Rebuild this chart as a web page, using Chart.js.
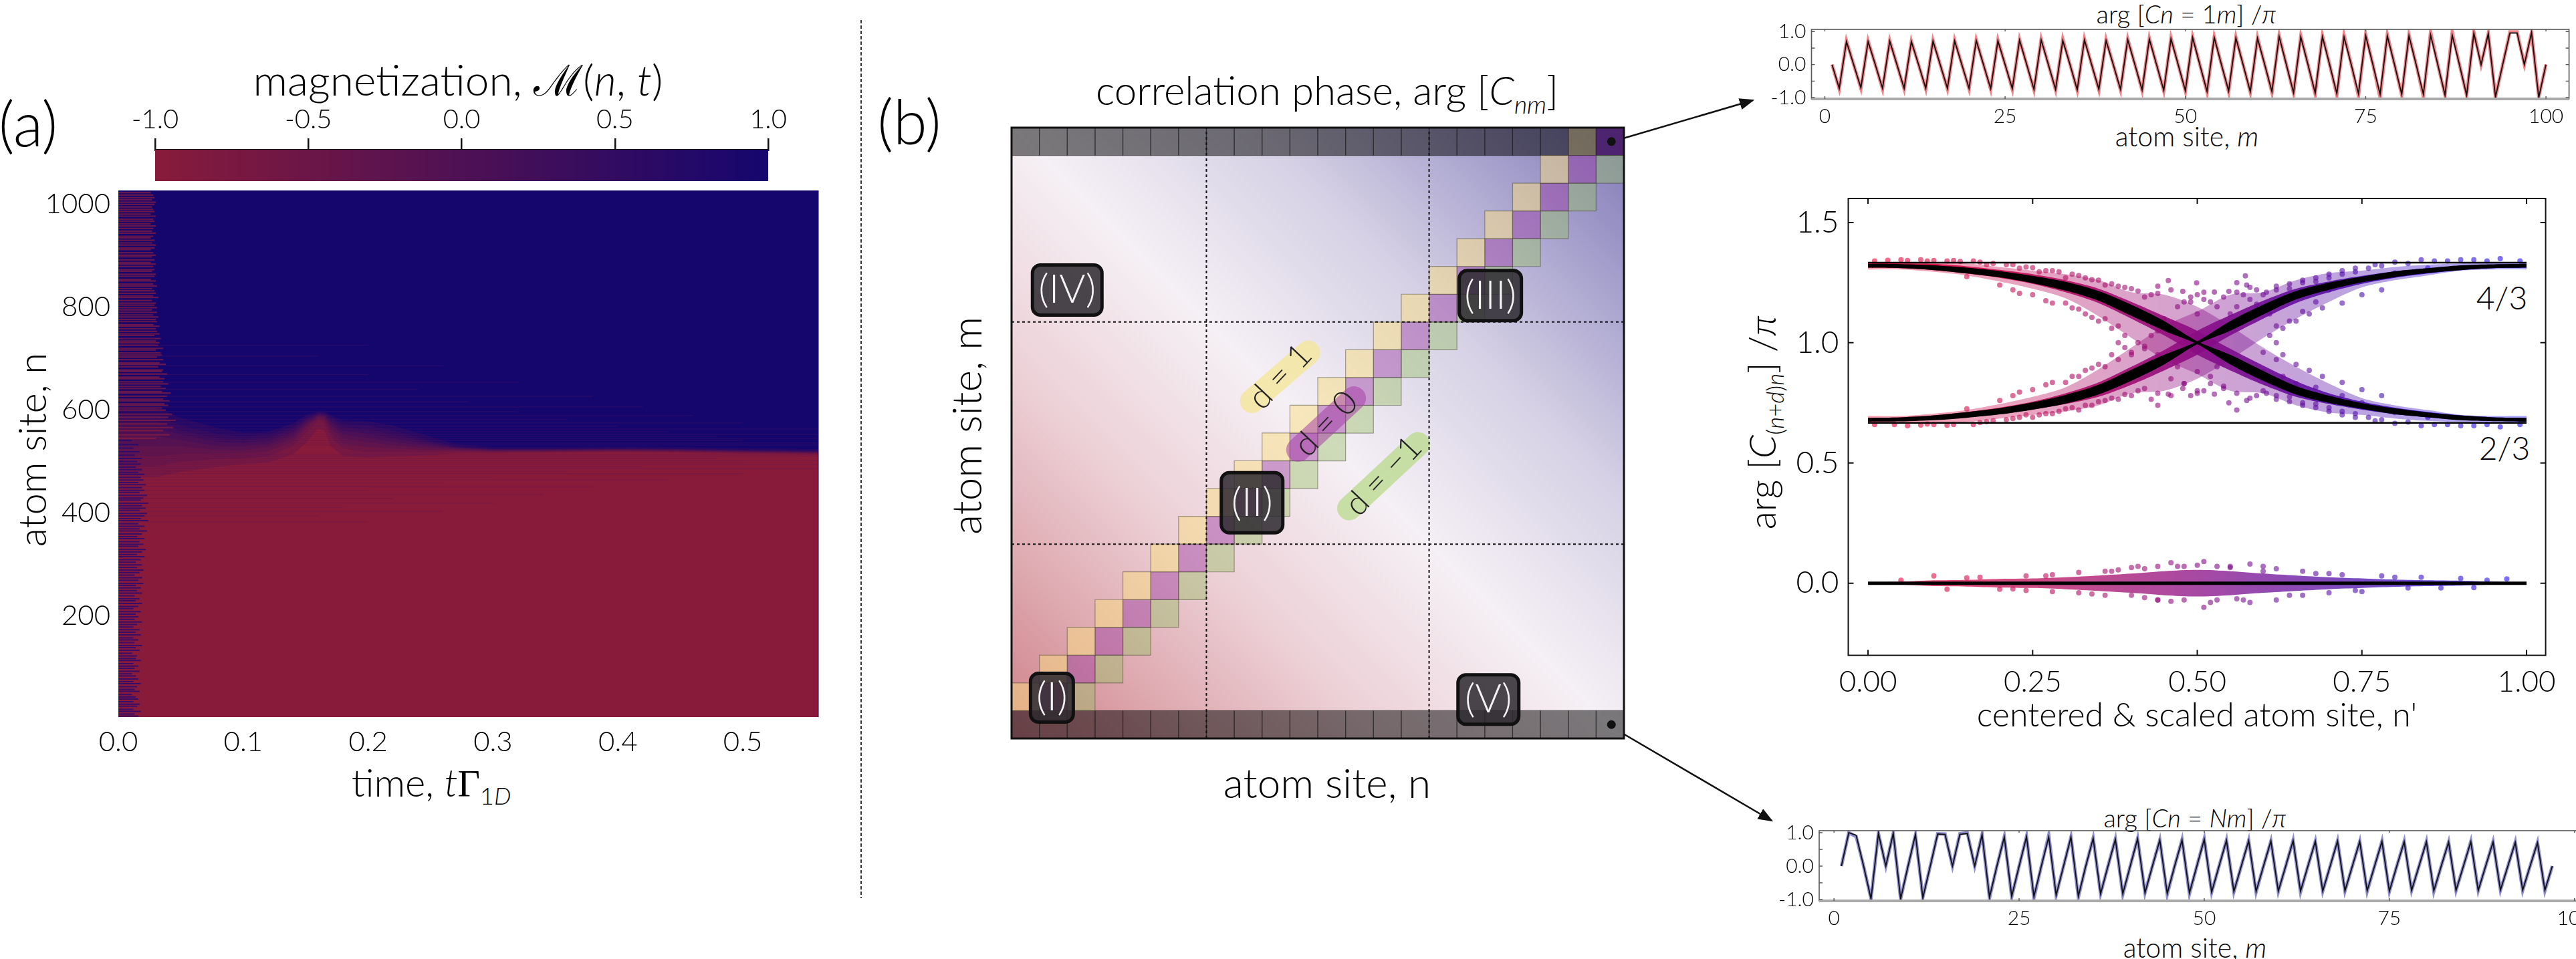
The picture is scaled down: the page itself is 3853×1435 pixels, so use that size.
<!DOCTYPE html>
<html>
<head>
<meta charset="utf-8">
<script src="https://cdn.jsdelivr.net/npm/chart.js@4"></script>
<style>
  html, body { margin: 0; background: #fff; }
  #page { position: relative; width: 3853px; height: 1435px; overflow: hidden; }
  canvas { position: absolute; }
  svg { position: absolute; left: 0; top: 0; }
  .t { position: absolute; transform: translate(-50%, -50%); white-space: nowrap; font-family: Lato; font-weight: 300; color: #000; }
  .v { transform: translate(-50%, -50%) rotate(-90deg); }
  .t i { font-family: Lato; font-weight: 300; font-style: italic; }
  sub { font-size: 62%; line-height: 0; }
</style>
</head>
<body>
<div id="page">
  <svg width="3853" height="1435">
    <defs>
      <marker id="head" markerWidth="9" markerHeight="7" refX="8" refY="3.5" orient="auto"><path d="M0 0 L9 3.5 L0 7 Z" fill="#111"/></marker>
    </defs>
    <line x1="1288" y1="30" x2="1288" y2="1344" stroke="#333" stroke-width="2" stroke-dasharray="5 3"/>
    <line x1="2411" y1="212" x2="2622" y2="150" stroke="#111" stroke-width="2.5" marker-end="url(#head)"/>
    <line x1="2411" y1="1088" x2="2650" y2="1228" stroke="#111" stroke-width="2.5" marker-end="url(#head)"/>
  </svg>

  <div class="t" style="left:42px;top:183px;font-size:92px">(a)</div>
  <div class="t" style="left:1360px;top:180px;font-size:92px">(b)</div>

  <div class="t" style="left:685px;top:118px;font-size:64px">magnetization, <span style="font-family:'DejaVu Serif';font-weight:400">ℳ</span>(<i>n</i>, <i>t</i>)</div>
  <div class="t v" style="left:46px;top:673px;font-size:58px">atom site, n</div>
  <div class="t" style="left:645px;top:1170px;font-size:58px">time, <i>t</i><span style="font-family:'Liberation Serif';font-weight:400">Γ</span><sub>1<i>D</i></sub></div>

  <div class="t" style="left:1985px;top:134px;font-size:60px">correlation phase, arg [<i>C</i><sub><i>nm</i></sub>]</div>
  <div class="t v" style="left:1444px;top:637px;font-size:62px">atom site, m</div>
  <div class="t" style="left:1985px;top:1170px;font-size:62px">atom site, n</div>

  <div class="t v" style="left:2634px;top:632px;font-size:56px">arg [<i>C</i><sub>(<i>n</i>+<i>d</i>)<i>n</i></sub>] /<i>π</i></div>
  <div class="t" style="left:3286px;top:1068px;font-size:50px">centered &amp; scaled atom site, n'</div>
  <div class="t" style="left:3742px;top:444px;font-size:48px">4/3</div>
  <div class="t" style="left:3746px;top:669px;font-size:48px">2/3</div>

  <div class="t" style="left:3270px;top:20px;font-size:38px">arg [<i>Cn</i> = 1<i>m</i>] /<i>π</i></div>
  <div class="t" style="left:3271px;top:203px;font-size:41px">atom site, <i>m</i></div>
  <div class="t" style="left:3283px;top:1223px;font-size:38px">arg [<i>Cn</i> = <i>Nm</i>] /<i>π</i></div>
  <div class="t" style="left:3283px;top:1417px;font-size:41px">atom site, <i>m</i></div>
</div>

<script>
// panel (a): contour heights of the magnetization front
const frontTimes = [0, 0.03, 0.05, 0.08, 0.1, 0.12, 0.14, 0.15, 0.16, 0.165, 0.17, 0.18, 0.2, 0.22, 0.25, 0.27, 0.3, 0.35, 0.4, 0.45, 0.5, 0.56];
const magLevels = [-0.8, -0.6, -0.4, -0.2, 0, 0.2, 0.4, 0.6, 0.8];
const frontM80n = [470,470,480,490,495,498,515,535,565,560,530,510,508,510,512,516,516,517,518,517,515,513];
const frontM60n = [490,490,500,505,506,510,530,555,580,575,548,525,518,518,518,520,518,519,520,519,517,515];
const frontM40n = [510,510,515,515,516,520,540,565,585,582,558,535,528,525,522,522,520,520,521,520,518,516];
const frontM20n = [530,530,530,522,522,528,546,570,587,585,566,545,538,532,526,524,521,521,522,521,519,517];
const frontZero = [550,550,542,530,530,534,552,574,589,588,572,553,546,538,530,526,522,522,523,522,520,518];
const frontP20 = [565,565,552,538,536,540,558,578,591,590,577,560,554,545,534,527,523,523,524,523,521,519];
const frontP40 = [578,578,560,545,542,546,563,581,593,592,582,567,562,552,537,528,524,524,525,524,522,520];
const frontP60 = [590,590,570,553,548,552,568,585,595,594,586,573,570,560,540,530,525,525,526,525,523,521];
const frontP80 = [605,605,585,565,556,558,574,590,598,597,590,580,578,570,548,534,528,528,529,528,526,524];
const magFronts = [frontM80n, frontM60n, frontM40n, frontM20n, frontZero, frontP20, frontP40, frontP60, frontP80];

// early time stripes [site, end time]
const redStripes = [[545,.03],[552,.041],[560,.036],[566,.044],[573,.039],[580,.046],[586,.04],[592,.043],[600,.038],[604,.035],[609,.04],[612,.037],[618,.041],[621,.036],[627,.039],[633,.042],[636,.035],[642,.038],[646,.034],[651,.04],[655,.036],[661,.037],[664,.033],[670,.039],[675,.035],[678,.036],[684,.032],[689,.038],[692,.033],[698,.036],[703,.031],[707,.035],[711,.034],[717,.03],[720,.036],[726,.032],[731,.033],[734,.03],[739,.034],[745,.029],[748,.033],[753,.031],[758,.03],[763,.033],[766,.028],[772,.031],[776,.03],[781,.032],[785,.028],[790,.031],[795,.027],[799,.031],[804,.029],[808,.03],[813,.027],[819,.032],[822,.028],[827,.03],[832,.029],[836,.027],[841,.031],[845,.028],[851,.03],[854,.026],[860,.029],[864,.03],[870,.027],[873,.029],[879,.028],[884,.03],[887,.026],[892,.029],[898,.027],[901,.03],[906,.028],[912,.026],[915,.029],[921,.03],[925,.027],[930,.029],[935,.026],[938,.028],[944,.03],[948,.027],[953,.028],[958,.03],[962,.026],[967,.029],[971,.028],[977,.03],[981,.026],[986,.029],[990,.028],[995,.027],[1000,.029],[1004,.03],[1009,.027],[1013,.029],[1018,.028],[1023,.026]];
const blueStripes = [[5,.016],[9,.013],[14,.018],[18,.012],[24,.015],[28,.017],[33,.012],[38,.016],[42,.014],[47,.011],[53,.017],[57,.013],[62,.015],[68,.018],[72,.012],[77,.016],[83,.014],[87,.011],[92,.017],[98,.013],[102,.016],[107,.012],[113,.018],[117,.014],[122,.015],[127,.011],[133,.017],[138,.014],[142,.019],[148,.013],[153,.016],[157,.012],[163,.018],[168,.014],[173,.017],[178,.012],[183,.015],[188,.019],[193,.013],[198,.016],[203,.014],[208,.018],[214,.012],[218,.016],[224,.019],[229,.014],[233,.017],[239,.013],[244,.019],[249,.015],[254,.018],[259,.014],[263,.02],[269,.016],[274,.019],[279,.013],[284,.017],[289,.02],[294,.015],[299,.019],[304,.014],[309,.018],[315,.021],[319,.015],[324,.019],[329,.022],[335,.016],[339,.02],[344,.017],[350,.021],[354,.015],[359,.019],[365,.023],[369,.017],[374,.021],[379,.016],[385,.024],[389,.018],[394,.021],[399,.023],[405,.017],[409,.022],[414,.019],[419,.024],[425,.018],[429,.02],[434,.023],[440,.017],[444,.021],[449,.019],[455,.022],[459,.016],[464,.02],[469,.018],[475,.021],[479,.016],[484,.019],[489,.014],[495,.018],[500,.015],[506,.019],[512,.013],[519,.017],[526,.012],[533,.016],[541,.011]];
const fineStripes = [[382,.2],[394,.16],[403,.26],[411,.18],[419,.3],[428,.22],[436,.34],[444,.2],[451,.38],[458,.26],[464,.44],[470,.3],[476,.5],[481,.36],[486,.56],[490,.42],[494,.56],[498,.5],[502,.56],[506,.48],[510,.56],[513,.56],[532,.56],[536,.56],[541,.5],[545,.56],[549,.48],[553,.56],[558,.44],[563,.56],[569,.4],[575,.5],[582,.36],[589,.46],[597,.32],[606,.42],[616,.28],[627,.38],[640,.24],[654,.32],[669,.2],[686,.26],[705,.16],[726,.2]];
const magTicksY = [200, 400, 600, 800, 1000];

// colorbar
const colorbarRange = [-1, 1];

// panel (b): 22 x 22 block grid, 1-based sites
const diagSites = [1,2,3,4,5,6,7,8,9,10,11,12,13,14,15,16,17,18,19,20];
const stripSites = [1,2,3,4,5,6,7,8,9,10,11,12,13,14,15,16,17,18,19,20,21,22];
const regionLabels = ['(I)', '(II)', '(III)', '(IV)', '(V)'];
const regionN = [1.45, 8.64, 17.2, 2, 17.13];
const regionM = [1.47, 8.49, 15.95, 16.15, 1.4];
const regionW = [64, 92, 93, 104, 91];
const regionH = [73, 90, 75, 75, 74];
const dividersN = [7, 15];
const dividersM = [7, 15];

// panel (b) right, centre: branches over the scaled site
const branchX = [0,.05,.1,.15,.2,.25,.3,.35,.4,.45,.5,.55,.6,.65,.7,.75,.8,.85,.9,.95,1];
const fallBlackHigh = [1.328,1.327,1.322,1.312,1.298,1.278,1.253,1.215,1.158,1.09,1.006,.95,.883,.82,.78,.749,.727,.71,.698,.69,.688];
const fallBlackLow = [1.312,1.31,1.302,1.288,1.272,1.248,1.217,1.175,1.112,1.05,.994,.91,.842,.785,.75,.725,.703,.69,.678,.674,.672];
const fallHigh = [1.335,1.335,1.335,1.33,1.315,1.3,1.285,1.26,1.21,1.2,1.15,1.07,.98,.9,.83,.77,.74,.72,.7,.695,.695];
const fallLow = [1.305,1.305,1.295,1.28,1.255,1.225,1.185,1.11,1.02,.93,.87,.8,.79,.74,.71,.7,.685,.675,.67,.665,.665];
const fallCoreHigh = [1.33,1.33,1.328,1.318,1.303,1.285,1.26,1.225,1.17,1.11,1.05,.975,.905,.84,.79,.755,.73,.712,.698,.69,.688];
const fallCoreLow = [1.312,1.31,1.302,1.288,1.27,1.245,1.21,1.165,1.1,1.03,.95,.885,.825,.775,.745,.722,.703,.69,.68,.675,.672];
const riseBlackHigh = [.688,.69,.698,.712,.728,.752,.783,.825,.888,.95,1.006,1.09,1.158,1.215,1.25,1.275,1.297,1.31,1.322,1.326,1.328];
const riseBlackLow = [.672,.673,.678,.688,.702,.722,.747,.785,.842,.91,.994,1.05,1.117,1.18,1.22,1.251,1.273,1.29,1.302,1.31,1.312];
const riseHigh = [.695,.695,.705,.72,.745,.775,.815,.89,.98,1.07,1.13,1.2,1.21,1.26,1.29,1.3,1.315,1.325,1.33,1.335,1.335];
const riseLow = [.665,.665,.665,.67,.685,.7,.715,.74,.79,.8,.85,.93,1.02,1.1,1.17,1.23,1.26,1.28,1.3,1.305,1.305];
const riseCoreHigh = [.688,.69,.698,.712,.73,.755,.79,.835,.9,.97,1.05,1.115,1.175,1.225,1.255,1.278,1.297,1.31,1.32,1.325,1.328];
const riseCoreLow = [.672,.675,.68,.69,.703,.722,.745,.775,.825,.885,.95,1.03,1.1,1.165,1.21,1.245,1.27,1.288,1.302,1.31,1.312];
const zeroHigh = [.004,.006,.012,.014,.018,.02,.025,.032,.04,.05,.055,.05,.04,.032,.025,.02,.015,.012,.01,.006,.004];
const zeroLow = [-.004,-.006,-.012,-.014,-.018,-.02,-.025,-.032,-.04,-.05,-.055,-.05,-.04,-.032,-.025,-.02,-.015,-.012,-.01,-.006,-.004];
const zeroMean = [0,0,0,0,0,0,0,0,0,0,0,0,0,0,0,0,0,0,0,0,0];
const plateauX = [0, 1];
const plateauHigh = [1.3333, 1.3333];
const plateauLow = [.6667, .6667];

const scatterX = [.01,.03,.05,.08,.1,.12,.14,.16,.19,.22,.24,.27,.29,.31,.33,.35,.37,.39,.41,.43,.44,.456,.478,.49,.499,.51,.526,.548,.56,.573,.575,.59,.605,.62,.64,.66,.68,.7,.72,.74,.77,.8,.84,.88,.92,.96,.99,
  .15,.2,.23,.27,.3,.32,.34,.36,.38,.38,.38,.39,.41,.42,.43,.44,.62,.62,.62,.61,.59,.58,.57,.56,.66,.64,.68,.7,.73,.77,.8,.85,
  .01,.04,.08,.1,.12,.16,.19,.22,.24,.27,.29,.31,.33,.35,.37,.39,.41,.43,.44,.456,.478,.49,.5,.51,.526,.548,.56,.575,.59,.605,.62,.64,.66,.68,.7,.72,.74,.77,.8,.84,.88,.92,.96,.99,
  .15,.2,.23,.27,.3,.32,.34,.36,.4,.42,.44,.6,.63,.65,.68,.72,.75,.8,.85,
  .1,.17,.24,.28,.32,.36,.38,.4,.42,.44,.46,.48,.51,.53,.55,.58,.6,.62,.66,.7,.72,.78,.84,.9,.97,
  .12,.2,.24,.28,.32,.36,.4,.42,.44,.46,.48,.51,.53,.56,.58,.62,.66,.7,.75,.82,.92,
  .47,.49,.51,.53,.46,.54,.52,.48,.5,.47,.53,.5,.55,.45,.57,.43,
  .06,.09,.13,.17,.18,.21,.23,.25,.26,.28,.3,.32,.34,.36,.38,.4,.42,.44,.46,.48,.5,.52,.54,.56,.58,.6,.62,.64,.66,.68,.7,.72,.74,.76,.78,.82,.86,.9,.94,
  .06,.09,.13,.17,.18,.21,.23,.25,.26,.28,.3,.32,.34,.36,.38,.4,.42,.44,.46,.48,.5,.52,.54,.56,.58,.6,.62,.64,.66,.68,.7,.72,.74,.76,.78,.82,.86,.9,.94,
  .22,.25,.28,.31,.33,.35,.37,.39,.4,.37,.35,.33,.31,.28,.25,.22,.78,.75,.72,.69,.67,.65,.63,.61,.6,.63,.65,.67,.69,.72,.75,.78,
  .05,.15,.22,.27,.34,.37,.41,.44,.47,.5,.52,.55,.57,.6,.64,.68,.74,.8,.87,.94];
const scatterY = [1.34,1.343,1.345,1.345,1.342,1.34,1.338,1.34,1.33,1.325,1.315,1.3,1.295,1.285,1.27,1.26,1.245,1.23,1.215,1.2,1.235,1.259,1.214,1.19,1.249,1.21,1.211,1.214,1.25,1.278,1.24,1.22,1.21,1.22,1.245,1.26,1.27,1.285,1.3,1.31,1.325,1.335,1.345,1.34,1.345,1.35,1.34,
  1.275,1.24,1.205,1.175,1.165,1.14,1.105,1.1,1.07,1.0,.93,.98,1,.985,1.03,1.05,1.07,1,.93,1.12,1.16,1.18,1.2,1.15,1.13,1.09,1.17,1.22,1.25,1.27,1.29,1.31,
  .66,.66,.658,.66,.657,.66,.675,.685,.7,.705,.715,.73,.74,.755,.77,.785,.8,.765,.74,.786,.81,.78,.79,.8,.786,.75,.72,.76,.78,.79,.78,.755,.74,.73,.715,.7,.69,.675,.665,.655,.66,.655,.65,.66,
  .725,.76,.795,.825,.835,.86,.895,.9,.95,.975,.95,.88,.86,.83,.815,.78,.75,.71,.69,
  .03,.025,.03,.035,.045,.05,.055,.065,.06,.07,.085,.07,.09,.07,.065,.08,.05,.06,.05,.04,.035,.03,.025,.02,.018,
  -.025,-.025,-.03,-.035,-.04,-.05,-.05,-.06,-.07,-.075,-.07,-.1,-.07,-.065,-.08,-.07,-.05,-.04,-.035,-.02,-.018,
  1.15,1.17,1.18,1.15,.85,.82,.86,.83,.88,.9,.9,1.12,1.12,1.1,.9,.92,
  1.342,1.34,1.342,1.335,1.325,1.325,1.31,1.312,1.295,1.3,1.27,1.28,1.262,1.24,1.235,1.225,1.19,1.205,1.22,1.17,1.2,1.17,1.19,1.21,1.23,1.2,1.235,1.225,1.25,1.255,1.27,1.285,1.295,1.31,1.32,1.33,1.34,1.345,1.34,
  .655,.662,.66,.668,.672,.68,.69,.69,.7,.705,.725,.72,.74,.76,.765,.78,.81,.79,.78,.83,.8,.83,.81,.79,.77,.8,.765,.775,.75,.745,.73,.715,.705,.69,.68,.67,.66,.655,.66,
  1.22,1.2,1.165,1.145,1.12,1.09,1.06,1.03,.96,.95,.91,.885,.86,.835,.805,.78,1.22,1.2,1.165,1.145,1.12,1.09,1.06,1.03,.96,.95,.91,.885,.86,.835,.805,.78,
  .012,.022,-.024,.03,-.045,.05,.07,-.07,.07,.075,-.08,.07,-.07,.07,-.05,.04,-.03,.025,-.02,.012];

// top and bottom traces, site m = 1..100
const traceSites = [1,2,3,4,5,6,7,8,9,10,11,12,13,14,15,16,17,18,19,20,21,22,23,24,25,26,27,28,29,30,31,32,33,34,35,36,37,38,39,40,41,42,43,44,45,46,47,48,49,50,51,52,53,54,55,56,57,58,59,60,61,62,63,64,65,66,67,68,69,70,71,72,73,74,75,76,77,78,79,80,81,82,83,84,85,86,87,88,89,90,91,92,93,94,95,96,97,98,99,100];
const topIdeal = [0,-.72,.7,0,-.7,.7,0,-.72,.71,0,-.72,.7,0,-.72,.71,0,-.72,.72,0,-.72,.73,0,-.73,.72,0,-.73,.74,0,-.75,.75,0,-.75,.73,0,-.76,.75,0,-.75,.73,0,-.75,.76,0,-.77,.77,0,-.78,.78,0,-.79,.82,0,-.81,.82,0,-.8,.81,0,-.82,.8,0,-.82,.85,0,-.85,.84,0,-.86,.85,0,-.88,.84,0,-.88,.88,0,-.9,.87,0,-.9,.87,0,-.9,.9,0,-.92,.89,0,-.93,.95,0,.94,-.98,0,.96,.96,0,.97,-1,0];
const topNumeric = [0,-.74,.72,0,-.72,.72,0,-.74,.73,0,-.74,.71,0,-.74,.73,0,-.74,.74,0,-.74,.75,0,-.75,.74,0,-.75,.76,0,-.77,.77,0,-.77,.77,0,-.78,.78,0,-.77,.76,0,-.77,.78,0,-.79,.8,0,-.8,.81,0,-.81,.84,0,-.84,.84,0,-.83,.83,0,-.84,.82,0,-.85,.88,0,-.87,.87,0,-.9,.88,0,-.93,.9,0,-.95,.91,0,-1,.91,0,-.93,.9,0,-.97,.99,0,-.93,.98,0,-.93,.99,0,.94,-.98,0,.99,.99,0,.97,-.98,0];
const bottomIdeal = [0,1,.92,0,-.98,.98,0,.98,-.98,0,.95,-.95,0,.96,.95,0,.95,.98,0,.94,-.93,0,.87,-.9,0,.88,-.91,0,.87,-.87,0,.87,-.9,0,.83,-.83,0,.8,-.83,0,.82,-.8,0,.78,-.82,0,.78,-.8,0,.8,-.78,0,.77,-.76,0,.76,-.76,0,.75,-.75,0,.76,-.75,0,.74,-.75,0,.75,-.74,0,.74,-.74,0,.74,-.75,0,.73,-.73,0,.73,-.74,0,.72,-.73,0,.73,-.73,0,.72,-.72,0,.71,-.72,0,.7,-.72,0];
const bottomNumeric = [0,1,.88,0,-.98,.98,0,.98,-.98,0,.93,-.93,0,.97,.96,0,.97,1,0,.95,-.96,0,.88,-.92,0,.89,-.96,0,.93,-.87,0,.87,-.93,0,.84,-.83,0,.81,-.85,0,.83,-.8,0,.78,-.85,0,.79,-.83,0,.82,-.78,0,.78,-.77,0,.77,-.78,0,.75,-.76,0,.77,-.78,0,.74,-.75,0,.76,-.75,0,.74,-.76,0,.75,-.76,0,.74,-.73,0,.74,-.76,0,.72,-.73,0,.74,-.73,0,.73,-.72,0,.72,-.73,0,.71,-.74,0];
const centreTicksX = [0, .25, .5, .75, 1];
const traceTicksX = [0, 25, 50, 75, 100];
const traceMinorY = [-.5, .5];

Chart.defaults.animation = false;
Chart.defaults.responsive = false;
Chart.defaults.font.family = 'Lato';
Chart.defaults.font.weight = '300';
Chart.defaults.color = '#000';

const page = document.getElementById('page');

// canvas at box, plot area at plot, both in page pixels
function place(box, plot, config) {
  const c = document.createElement('canvas');
  c.width = box.r - box.l;
  c.height = box.b - box.t;
  c.style.left = box.l + 'px';
  c.style.top = box.t + 'px';
  page.appendChild(c);
  const s = config.options.scales;
  const pad = { left: plot.l - box.l, right: box.r - plot.r, top: plot.t - box.t, bottom: box.b - plot.b };
  if (s.y.display !== false) {
    const w = pad.left;
    s.y.afterFit = a => { a.width = w; };
    pad.left = 0;
  }
  if (s.x.display !== false) {
    if (s.x.position === 'top') {
      const h = pad.top;
      s.x.afterFit = a => { a.height = h; };
      pad.top = 0;
    } else {
      const h = pad.bottom;
      s.x.afterFit = a => { a.height = h; };
      pad.bottom = 0;
    }
  }
  config.options.layout = { padding: pad, autoPadding: false };
  config.options.plugins = Object.assign({ legend: { display: false }, tooltip: { enabled: false } }, config.options.plugins);
  return new Chart(c, config);
}

function axis(min, max, size, pad, extra) {
  return Object.assign({
    type: 'linear', min, max,
    grid: { display: false, drawTicks: false },
    border: { display: false },
    ticks: { font: { size }, padding: pad, autoSkip: false, maxRotation: 0, includeBounds: false }
  }, extra);
}

// ---- panel (a) ----
const magRed = [136, 27, 58];
const magBlue = [21, 6, 110];
function magColor(m) {
  const f = (m + 1) / 2;
  const c = magRed.map((v, i) => Math.round(v + (magBlue[i] - v) * f));
  return `rgb(${c[0]},${c[1]},${c[2]})`;
}
function stripePoints(list) {
  const pts = [];
  list.forEach(([site, end]) => {
    pts.push({ x: 0, y: site }, { x: end, y: site }, { x: end, y: null });
  });
  return pts;
}
const magDatasets = [];
// Filler paints last dataset first, so the lowest contour stays on top
magFronts.forEach((front, i) => {
  magDatasets.push({
    type: 'line',
    data: front.map((n, j) => ({ x: frontTimes[j], y: n })),
    fill: 'start',
    backgroundColor: magColor(i === 0 ? -1 : magLevels[i] - 0.1),
    borderWidth: 0, pointRadius: 0, tension: 0
  });
});
magDatasets.unshift(
  { type: 'line', data: stripePoints(redStripes), borderColor: 'rgba(150,32,55,0.62)', borderWidth: 2.2, pointRadius: 0, spanGaps: false },
  { type: 'line', data: stripePoints(blueStripes), borderColor: 'rgba(30,10,120,0.75)', borderWidth: 2, pointRadius: 0, spanGaps: false },
  { type: 'line', data: stripePoints(fineStripes), borderColor: 'rgba(90,20,90,0.28)', borderWidth: 1.4, pointRadius: 0, spanGaps: false }
);

place({ l: 60, t: 205, r: 1260, b: 1140 }, { l: 177, t: 285, r: 1224.5, b: 1073 }, {
  type: 'line',
  data: { datasets: magDatasets },
  options: {
    scales: {
      x: axis(0, 0.5607, 42, 10, { ticks: { font: { size: 42 }, padding: 12, stepSize: 0.1, autoSkip: false, maxRotation: 0, includeBounds: false, callback: v => v.toFixed(1) } }),
      y: axis(3, 1027, 42, 12, { afterBuildTicks: a => { a.ticks = magTicksY.map(value => ({ value })); }, ticks: { font: { size: 42 }, padding: 12, autoSkip: false, callback: v => String(v) } })
    }
  },
  plugins: [{
    id: 'base',
    beforeDraw(chart) {
      const a = chart.chartArea;
      chart.ctx.fillStyle = magColor(1);
      chart.ctx.fillRect(a.left, a.top, a.right - a.left, a.bottom - a.top);
    }
  }]
});

// colorbar
place({ l: 170, t: 150, r: 1210, b: 275 }, { l: 232, t: 224, r: 1149, b: 271 }, {
  type: 'bar',
  data: {
    labels: ['magnetization'],
    datasets: [{
      data: [colorbarRange],
      barPercentage: 1, categoryPercentage: 1, borderWidth: 0,
      backgroundColor(ctx) {
        const a = ctx.chart.chartArea;
        if (!a) return magColor(0);
        const g = ctx.chart.ctx.createLinearGradient(a.left, 0, a.right, 0);
        g.addColorStop(0, magColor(-1));
        g.addColorStop(1, magColor(1));
        return g;
      }
    }]
  },
  options: {
    indexAxis: 'y',
    scales: {
      x: {
        type: 'linear', position: 'top', min: -1, max: 1,
        grid: { display: true, drawOnChartArea: false, drawTicks: true, tickLength: 17, color: '#111', lineWidth: 2.5 },
        border: { display: true, color: '#111', width: 3 },
        ticks: { stepSize: 0.5, font: { size: 40 }, padding: 4, maxRotation: 0, autoSkip: false, callback: v => v.toFixed(1) }
      },
      y: { display: false }
    }
  }
});

// ---- panel (b) ----
function cellsAt(ns, ms) {
  return ns.map((n, i) => ({ x: n - 0.5, y: ms[i] - 0.5 }));
}
const cellRadius = 41.6 / Math.SQRT2;
function cellSet(data, fill, edge) {
  return { type: 'scatter', data, pointStyle: 'rect', pointRadius: cellRadius, pointBackgroundColor: fill, pointBorderColor: edge || 'rgba(60,60,40,0.45)', pointBorderWidth: 1.2, clip: false };
}
function pillSet(from, to, color) {
  return { type: 'line', data: [{ x: from[0], y: from[1] }, { x: to[0], y: to[1] }], borderColor: color, borderWidth: 36, borderCapStyle: 'round', pointRadius: 0 };
}
function guideSet(data) {
  return { type: 'line', data, borderColor: '#111', borderWidth: 2, borderDash: [4, 4], pointRadius: 0 };
}
const topStripFill = stripSites.map(n => n === 22 ? 'rgba(60,10,90,0.78)' : n === 21 ? 'rgba(100,90,30,0.6)' : 'rgba(0,0,0,0.5)');

place({ l: 1500, t: 180, r: 2440, b: 1115 }, { l: 1513, t: 191, r: 2429, b: 1105 }, {
  type: 'scatter',
  data: {
    datasets: [
      // drawn top first
      guideSet([{ x: dividersN[0], y: 0 }, { x: dividersN[0], y: 22 }]),
      guideSet([{ x: dividersN[1], y: 0 }, { x: dividersN[1], y: 22 }]),
      guideSet([{ x: 0, y: dividersM[0] }, { x: 22, y: dividersM[0] }]),
      guideSet([{ x: 0, y: dividersM[1] }, { x: 22, y: dividersM[1] }]),
      pillSet([8.64, 12.15], [10.66, 13.9], 'rgba(245,230,160,0.85)'),
      pillSet([10.3, 10.4], [12.3, 12.25], 'rgba(165,65,165,0.55)'),
      pillSet([12.13, 8.29], [14.6, 10.6], 'rgba(190,220,150,0.85)'),
      cellSet(cellsAt(diagSites, diagSites.map(n => n + 1)), 'rgba(250,222,130,0.5)'),
      cellSet(cellsAt(diagSites.map(n => n + 1), diagSites.map(n => n + 1)), 'rgba(150,50,160,0.42)'),
      cellSet(cellsAt(diagSites.map(n => n + 2), diagSites.map(n => n + 1)), 'rgba(150,190,100,0.42)'),
      cellSet(cellsAt(stripSites, stripSites.map(() => 22)), topStripFill, 'rgba(30,30,30,0.55)'),
      cellSet(cellsAt(stripSites, stripSites.map(() => 1)), 'rgba(0,0,0,0.5)', 'rgba(30,30,30,0.55)')
    ]
  },
  options: {
    scales: {
      x: { type: 'linear', display: false, min: 0, max: 22 },
      y: { type: 'linear', display: false, min: 0, max: 22 }
    }
  },
  plugins: [{
    id: 'wash',
    beforeDatasetsDraw(chart) {
      const a = chart.chartArea, ctx = chart.ctx;
      const g = ctx.createLinearGradient(a.left, a.bottom, a.right, a.top);
      g.addColorStop(0, '#cf7f88');
      g.addColorStop(0.15, '#deaab0');
      g.addColorStop(0.3, '#ecd0d6');
      g.addColorStop(0.5, '#f5f0f5');
      g.addColorStop(0.7, '#d5d0e4');
      g.addColorStop(0.85, '#aaa5cf');
      g.addColorStop(1, '#7f78b5');
      ctx.fillStyle = g;
      ctx.fillRect(a.left, a.top, a.right - a.left, a.bottom - a.top);
    }
  }, {
    id: 'notes',
    afterDatasetsDraw(chart) {
      const ctx = chart.ctx, a = chart.chartArea, x = chart.scales.x, y = chart.scales.y;
      ctx.save();
      ctx.strokeStyle = '#111';
      ctx.lineWidth = 3;
      ctx.strokeRect(a.left, a.top, a.right - a.left, a.bottom - a.top);
      // end dots of the two strips
      ctx.fillStyle = '#111';
      [[21.55, 21.5], [21.55, 0.5]].forEach(([n, m]) => {
        ctx.beginPath();
        ctx.arc(x.getPixelForValue(n), y.getPixelForValue(m), 6.5, 0, 7);
        ctx.fill();
      });
      // diagonal names
      ctx.textAlign = 'center';
      ctx.textBaseline = 'middle';
      ctx.font = '300 50px Lato';
      [['d = 1', 9.65, 13.03], ['d = 0', 11.3, 11.33], ['d = −1', 13.36, 9.45]].forEach(([text, n, m]) => {
        ctx.save();
        ctx.translate(x.getPixelForValue(n), y.getPixelForValue(m));
        ctx.rotate(-Math.PI / 4 - 0.03);
        ctx.fillStyle = '#222';
        ctx.fillText(text, 0, 0);
        ctx.restore();
      });
      // region boxes
      regionLabels.forEach((label, i) => {
        const cx = x.getPixelForValue(regionN[i]), cy = y.getPixelForValue(regionM[i]);
        ctx.beginPath();
        ctx.roundRect(cx - regionW[i] / 2, cy - regionH[i] / 2, regionW[i], regionH[i], 12);
        ctx.fillStyle = 'rgba(45,42,48,0.86)';
        ctx.fill();
        ctx.lineWidth = 5;
        ctx.strokeStyle = '#111';
        ctx.stroke();
        ctx.fillStyle = '#f4f4f4';
        ctx.font = '300 60px Lato';
        ctx.fillText(label, cx, cy);
      });
      ctx.restore();
    }
  }]
});

// ---- centre scatter ----
const siteStops = [[0, [245, 5, 50]], [0.25, [190, 15, 90]], [0.5, [138, 12, 132]], [0.75, [75, 15, 175]], [1, [30, 15, 250]]];
function siteColor(t, alpha) {
  let i = 0;
  while (i < siteStops.length - 2 && t > siteStops[i + 1][0]) i++;
  const [t0, c0] = siteStops[i], [t1, c1] = siteStops[i + 1];
  const f = Math.min(1, Math.max(0, (t - t0) / (t1 - t0)));
  const c = c0.map((v, j) => Math.round(v + (c1[j] - v) * f));
  return `rgba(${c[0]},${c[1]},${c[2]},${alpha})`;
}
function bandFill(alpha) {
  return ctx => {
    const chart = ctx.chart;
    if (!chart.chartArea) return siteColor(0.5, alpha);
    const xs = chart.scales.x;
    const g = chart.ctx.createLinearGradient(xs.getPixelForValue(0), 0, xs.getPixelForValue(1), 0);
    siteStops.forEach(([t]) => g.addColorStop(t, siteColor(t, alpha)));
    return g;
  };
}
function seriesOn(xs, ys) {
  return xs.map((x, i) => ({ x, y: ys[i] }));
}
function bandSet(high, low, alpha) {
  return [
    { type: 'line', data: seriesOn(branchX, high), fill: '+1', backgroundColor: bandFill(alpha), borderWidth: 0, pointRadius: 0, tension: 0.3 },
    { type: 'line', data: seriesOn(branchX, low), borderWidth: 0, pointRadius: 0, tension: 0.3 }
  ];
}
function blackSet(high, low) {
  return [
    { type: 'line', data: seriesOn(branchX, high), fill: '+1', backgroundColor: '#000', borderWidth: 0, pointRadius: 0, tension: 0.3 },
    { type: 'line', data: seriesOn(branchX, low), borderWidth: 0, pointRadius: 0, tension: 0.3 }
  ];
}
function plateauSet(y) {
  return { type: 'line', data: seriesOn(plateauX, y), borderColor: '#000', borderWidth: 2.5, pointRadius: 0 };
}

place({ l: 2660, t: 220, r: 3853, b: 1045 }, { l: 2764.5, t: 297, r: 3807.6, b: 980.6 }, {
  type: 'scatter',
  data: {
    datasets: [
      ...blackSet(fallBlackHigh, fallBlackLow),
      ...blackSet(riseBlackHigh, riseBlackLow),
      { type: 'line', data: seriesOn(branchX, zeroMean), borderColor: '#000', borderWidth: 5, pointRadius: 0 },
      plateauSet(plateauHigh),
      plateauSet(plateauLow),
      {
        type: 'scatter', data: seriesOn(scatterX, scatterY), pointRadius: 4, pointBorderWidth: 0,
        pointBackgroundColor: ctx => siteColor(ctx.raw ? ctx.raw.x : 0.5, 0.6)
      },
      ...bandSet(fallCoreHigh, fallCoreLow, 0.9),
      ...bandSet(riseCoreHigh, riseCoreLow, 0.9),
      ...bandSet(fallHigh, fallLow, 0.38),
      ...bandSet(riseHigh, riseLow, 0.38),
      ...bandSet(zeroHigh, zeroLow, 0.75)
    ]
  },
  options: {
    plugins: { filler: { drawTime: 'beforeDatasetDraw' } },
    scales: {
      x: axis(-0.03, 1.029, 44, 14, { afterBuildTicks: a => { a.ticks = centreTicksX.map(value => ({ value })); }, ticks: { font: { size: 44 }, padding: 14, autoSkip: false, maxRotation: 0, callback: v => v.toFixed(2) } }),
      y: axis(-0.3, 1.6, 46, 14, { ticks: { font: { size: 46 }, padding: 14, stepSize: 0.5, includeBounds: false, callback: v => v.toFixed(1) } })
    }
  },
  plugins: [{
    id: 'box',
    afterDraw(chart) {
      const ctx = chart.ctx, a = chart.chartArea;
      ctx.save();
      ctx.strokeStyle = '#111';
      ctx.lineWidth = 2;
      ctx.strokeRect(a.left, a.top, a.right - a.left, a.bottom - a.top);
      chart.scales.x.ticks.forEach(t => {
        const p = chart.scales.x.getPixelForValue(t.value);
        ctx.beginPath();
        ctx.moveTo(p, a.top); ctx.lineTo(p, a.top + 8);
        ctx.moveTo(p, a.bottom); ctx.lineTo(p, a.bottom - 8);
        ctx.stroke();
      });
      chart.scales.y.ticks.forEach(t => {
        const p = chart.scales.y.getPixelForValue(t.value);
        ctx.beginPath();
        ctx.moveTo(a.left, p); ctx.lineTo(a.left + 8, p);
        ctx.moveTo(a.right, p); ctx.lineTo(a.right - 8, p);
        ctx.stroke();
      });
      ctx.restore();
    }
  }]
});

// ---- the two traces ----
function traceChart(box, plot, xMin, xMax, yMin, yMax, ideal, numeric, glow) {
  place(box, plot, {
    type: 'line',
    data: {
      datasets: [
        { data: seriesOn(traceSites, ideal), borderColor: '#111', borderWidth: 1.8, pointRadius: 0 },
        { data: seriesOn(traceSites, numeric), borderColor: glow, borderWidth: 5, pointRadius: 0 }
      ]
    },
    options: {
      scales: {
        x: axis(xMin, xMax, 30, 6, { ticks: { font: { size: 30 }, padding: 8, stepSize: 25, includeBounds: false, autoSkip: false, maxRotation: 0 } }),
        y: axis(yMin, yMax, 30, 8, { ticks: { font: { size: 30 }, padding: 8, stepSize: 1, includeBounds: false, callback: v => v.toFixed(1) } })
      }
    },
    plugins: [{
      id: 'traceBox',
      afterDraw(chart) {
        const ctx = chart.ctx, a = chart.chartArea, xs = chart.scales.x, ys = chart.scales.y;
        ctx.save();
        ctx.strokeStyle = '#555';
        ctx.lineWidth = 1.6;
        ctx.strokeRect(a.left, a.top, a.right - a.left, a.bottom - a.top);
        ctx.strokeStyle = '#aaa';
        ctx.lineWidth = 4;
        ctx.beginPath(); ctx.moveTo(a.left, a.bottom); ctx.lineTo(a.right, a.bottom); ctx.stroke();
        ctx.strokeStyle = '#555';
        ctx.lineWidth = 1.4;
        traceTicksX.forEach(v => {
          const p = xs.getPixelForValue(v);
          ctx.beginPath(); ctx.moveTo(p, a.top); ctx.lineTo(p, a.top + 3); ctx.moveTo(p, a.bottom); ctx.lineTo(p, a.bottom - 4); ctx.stroke();
        });
        ys.ticks.map(t => t.value).concat(traceMinorY).forEach(v => {
          const p = ys.getPixelForValue(v);
          ctx.beginPath(); ctx.moveTo(a.left, p); ctx.lineTo(a.left + 5, p); ctx.moveTo(a.right, p); ctx.lineTo(a.right - 5, p); ctx.stroke();
        });
        ctx.restore();
      }
    }]
  });
}

traceChart({ l: 2640, t: 0, r: 3900, b: 195 }, { l: 2709.5, t: 44, r: 3842.6, b: 148 }, -1.85, 103.2, -1.04, 1.067, topIdeal, topNumeric, 'rgba(240,110,115,0.85)');
traceChart({ l: 2650, t: 1190, r: 4000, b: 1392 }, { l: 2721, t: 1243, r: 3884, b: 1348 }, -2, 103, -1.04, 1.06, bottomIdeal, bottomNumeric, 'rgba(125,125,200,0.85)');
</script>
</body>
</html>
